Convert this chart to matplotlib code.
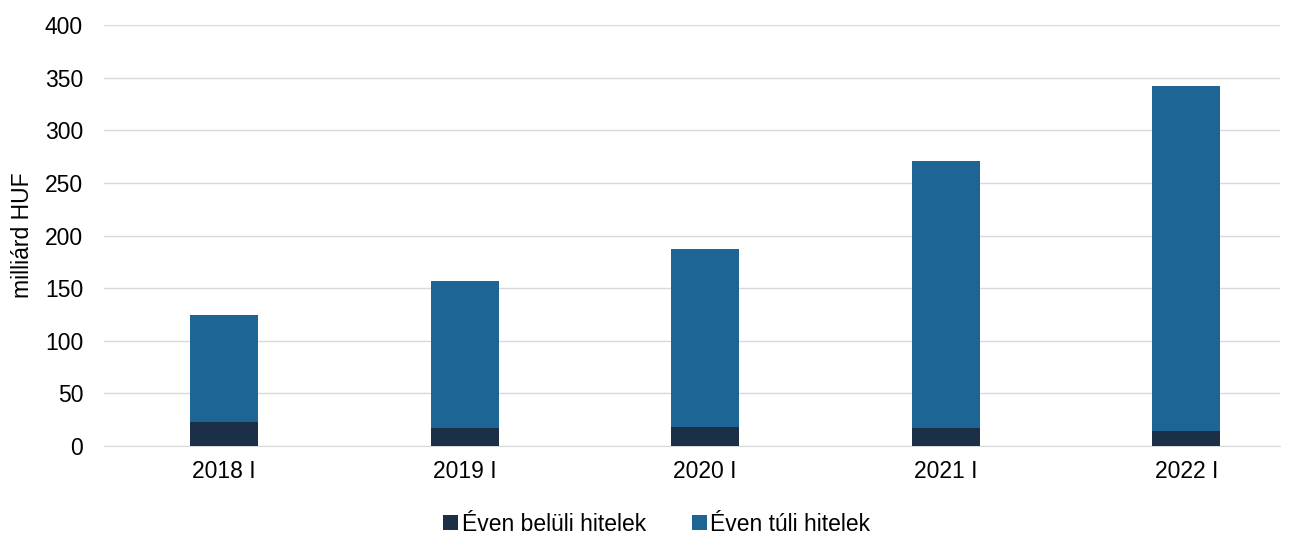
import matplotlib.pyplot as plt
import numpy as np

plt.rcParams['font.family'] = ['Liberation Sans', 'DejaVu Sans']

kategoriak = ["2018 I", "2019 I", "2020 I", "2021 I", "2022 I"]
even_beluli = [23, 17, 18, 17, 14]
even_tuli = [102, 140, 169, 254, 328]

fig = plt.figure(figsize=(12.93, 5.33), dpi=100)
ax = fig.add_axes([0.0804, 0.163, 0.9096, 0.79])

x = np.arange(len(kategoriak))
szel = 0.283
ax.bar(x, even_beluli, width=szel, color="#1b3046", label="Éven belüli hitelek", zorder=3)
ax.bar(x, even_tuli, width=szel, bottom=even_beluli, color="#1d6595",
       label="Éven túli hitelek", zorder=3)

ax.set_xlim(-0.5, 4.39)
ax.set_ylim(0, 400)
ax.set_yticks(np.arange(0, 401, 50))
ax.set_xticks(x)
ax.set_xticklabels(kategoriak)
ax.grid(axis="y", color="#d9d9d9", linewidth=1, zorder=0)
for s in ["top", "right", "left"]:
    ax.spines[s].set_visible(False)
ax.spines["bottom"].set_color("#d9d9d9")
ax.tick_params(axis="both", length=0, labelsize=16.5, colors="black")
ax.tick_params(axis="x", pad=10)
ax.tick_params(axis="y", pad=15)
ax.set_ylabel("milliárd HUF", fontsize=16.5, labelpad=8)

ax.legend(loc="upper center", bbox_to_anchor=(0.47, -0.125), ncol=2, frameon=False,
          fontsize=16.5, handlelength=0.65, handleheight=0.65, handletextpad=0.15,
          columnspacing=2.0, borderaxespad=0.2)

fig.savefig("out.png", dpi=100)
